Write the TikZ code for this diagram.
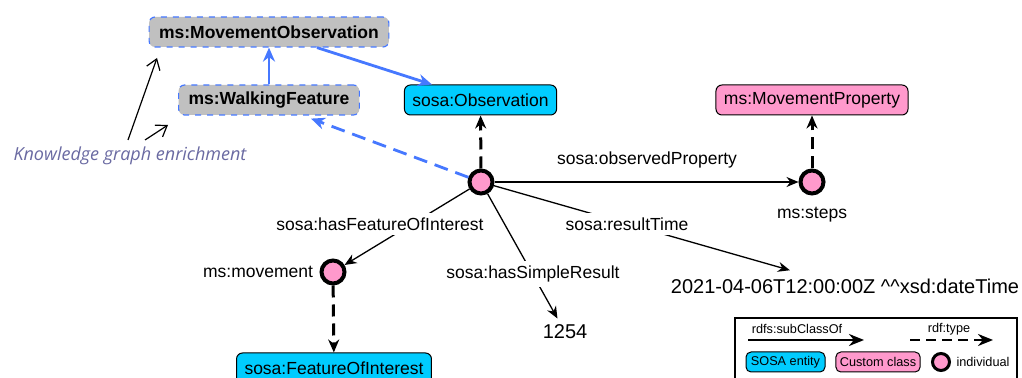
\documentclass[tikz,border=0pt]{standalone}
\usepackage{fontspec}
\setmainfont{Liberation Sans}
\newfontfamily\kgfont{Open Sans}
\usetikzlibrary{arrows.meta,calc}
\definecolor{sosacyan}{HTML}{00CCFF}
\definecolor{custpink}{HTML}{FF99CC}
\definecolor{enrgray}{HTML}{C0C0C0}
\definecolor{enrblue}{HTML}{4678FF}
\definecolor{kgtext}{HTML}{6A6AA2}
\newcommand{\fsmain}{\fontsize{8.75pt}{10pt}\selectfont}
\newcommand{\fsbig}{\fontsize{10pt}{12pt}\selectfont}
\newcommand{\fsleg}{\fontsize{6.35pt}{7.5pt}\selectfont}
\tikzset{
  classbox/.style={rectangle, rounded corners=3pt, draw=black, line width=0.5pt,
    minimum height=15pt, inner xsep=4pt, inner ysep=0pt, font=\fsmain},
  sosabox/.style={classbox, fill=sosacyan},
  custbox/.style={classbox, fill=custpink},
  enrbox/.style={classbox, fill=enrgray, draw=enrblue, dashed, line width=0.6pt,
    font=\fsmain\bfseries, inner xsep=5pt},
  indiv/.style={circle, draw=black, line width=2pt, fill=custpink,
    minimum size=11.5pt, inner sep=0pt},
  lit/.style={font=\fsbig, inner sep=3pt},
  lbl/.style={font=\fsmain, inner sep=2.5pt},
  lblw/.style={lbl, fill=white},
  propedge/.style={line width=0.65pt, -{Stealth[length=6pt,width=5pt]}},
  typeedge/.style={line width=1.5pt, dash pattern=on 6pt off 3.5pt,
    -{Stealth[length=6.5pt,width=5.5pt]}},
  blueedge/.style={line width=1.4pt, draw=enrblue,
    -{Stealth[length=7pt,width=6pt]}},
  bluetype/.style={blueedge, dash pattern=on 7pt off 4pt},
  kgedge/.style={line width=0.6pt, -{Straight Barb[length=5pt,width=7pt]}},
}
\begin{document}
\begin{tikzpicture}[x=0.5pt,y=-0.5pt]
\clip (0,0) rectangle (1022,378);
\useasboundingbox (0,0) rectangle (1022,378);
\fill[white] (0,0) rectangle (1022,378);

% class nodes
\node[enrbox] (mo) at (269,32) {ms:MovementObservation};
\node[enrbox] (wf) at (269,100) {ms:WalkingFeature};
\node[sosabox] (obsc) at (480.5,100) {sosa:Observation};
\node[custbox] (mp) at (812,100) {ms:MovementProperty};
\node[sosabox] (foi) at (334,368) {sosa:FeatureOfInterest};

% individuals
\node[indiv] (obs) at (481,182) {};
\node[indiv] (steps) at (812,182) {};
\node[indiv] (mov) at (333,272) {};
\node[lbl] (stepslbl) at (812,215) {ms:steps};
\node[lbl] (movlbl) at (258,272) {ms:movement};

% literals
\node[lit] (res) at (565,332) {1254};
\node[lit, inner ysep=4pt] (time) at (845,286) {2021-04-06T12:00:00Z \textasciicircum\textasciicircum xsd:dateTime};

% enrichment edges
\draw[blueedge] (wf) -- (mo);
\draw[blueedge] ($(mo.south)+(48,0)$) -- ($(obsc.north west)+(28,0)$);
\draw[bluetype] (obs) -- ($(wf.south)+(42,3)$);

% rdf:type edges
\draw[typeedge] (obs) -- (obsc);
\draw[typeedge] (steps) -- (mp);
\draw[typeedge] (mov) -- (foi);

% property edges
\draw[propedge] (obs) -- (steps);
\draw[propedge] (obs) -- (mov);
\draw[propedge] (obs) -- (res);
\draw[propedge] (obs) -- (time);

% property labels
\node[lbl] (lop) at (647,160) {sosa:observedProperty};
\node[lblw] (lfoi) at (380,224) {sosa:hasFeatureOfInterest};
\node[lblw] (lsr) at (533,274) {sosa:hasSimpleResult};
\node[lblw] (lrt) at (627,224) {sosa:resultTime};

% knowledge graph enrichment annotation
\node[font=\kgfont\itshape\fontsize{9pt}{11pt}\selectfont, text=kgtext, inner sep=0pt] (kg) at (130,156) {Knowledge graph enrichment};
\coordinate (kga) at (128,140);
\coordinate (kgb) at (145,140);
\coordinate (kgta) at (157,58);
\coordinate (kgtb) at (168,125);
\draw[kgedge] (kga) -- (kgta);
\draw[kgedge] (kgb) -- (kgtb);

% legend
\draw[line width=0.6pt] (735,318) rectangle (1017,400);
\coordinate (lsa) at (748,340);
\coordinate (lsb) at (864,340);
\coordinate (lta) at (910,340);
\coordinate (ltb) at (993,340);
\draw[line width=1.2pt, -{Stealth[length=7.5pt,width=6pt]}] (lsa) -- (lsb);
\draw[line width=1.2pt, dash pattern=on 5pt off 3pt, -{Stealth[length=7.5pt,width=6pt]}] (lta) -- (ltb);
\node[font=\fsleg, inner sep=0pt] (lsub) at (797,329) {rdfs:subClassOf};
\node[font=\fsleg, inner sep=0pt] (ltyp) at (949,329) {rdf:type};
\node[sosabox, font=\fsleg, minimum height=10pt, minimum width=39.5pt, inner xsep=2pt, rounded corners=2.5pt] (lsosa) at (785.5,362) {SOSA entity};
\node[custbox, font=\fsleg, minimum height=10pt, minimum width=39pt, inner xsep=2pt, rounded corners=2.5pt] (lcust) at (878,362) {Custom class};
\node[indiv, line width=1.5pt, minimum size=8.5pt] (lind) at (941,362) {};
\node[font=\fsleg, inner sep=0pt] (lindt) at (983,362) {individual};
\end{tikzpicture}
\end{document}
